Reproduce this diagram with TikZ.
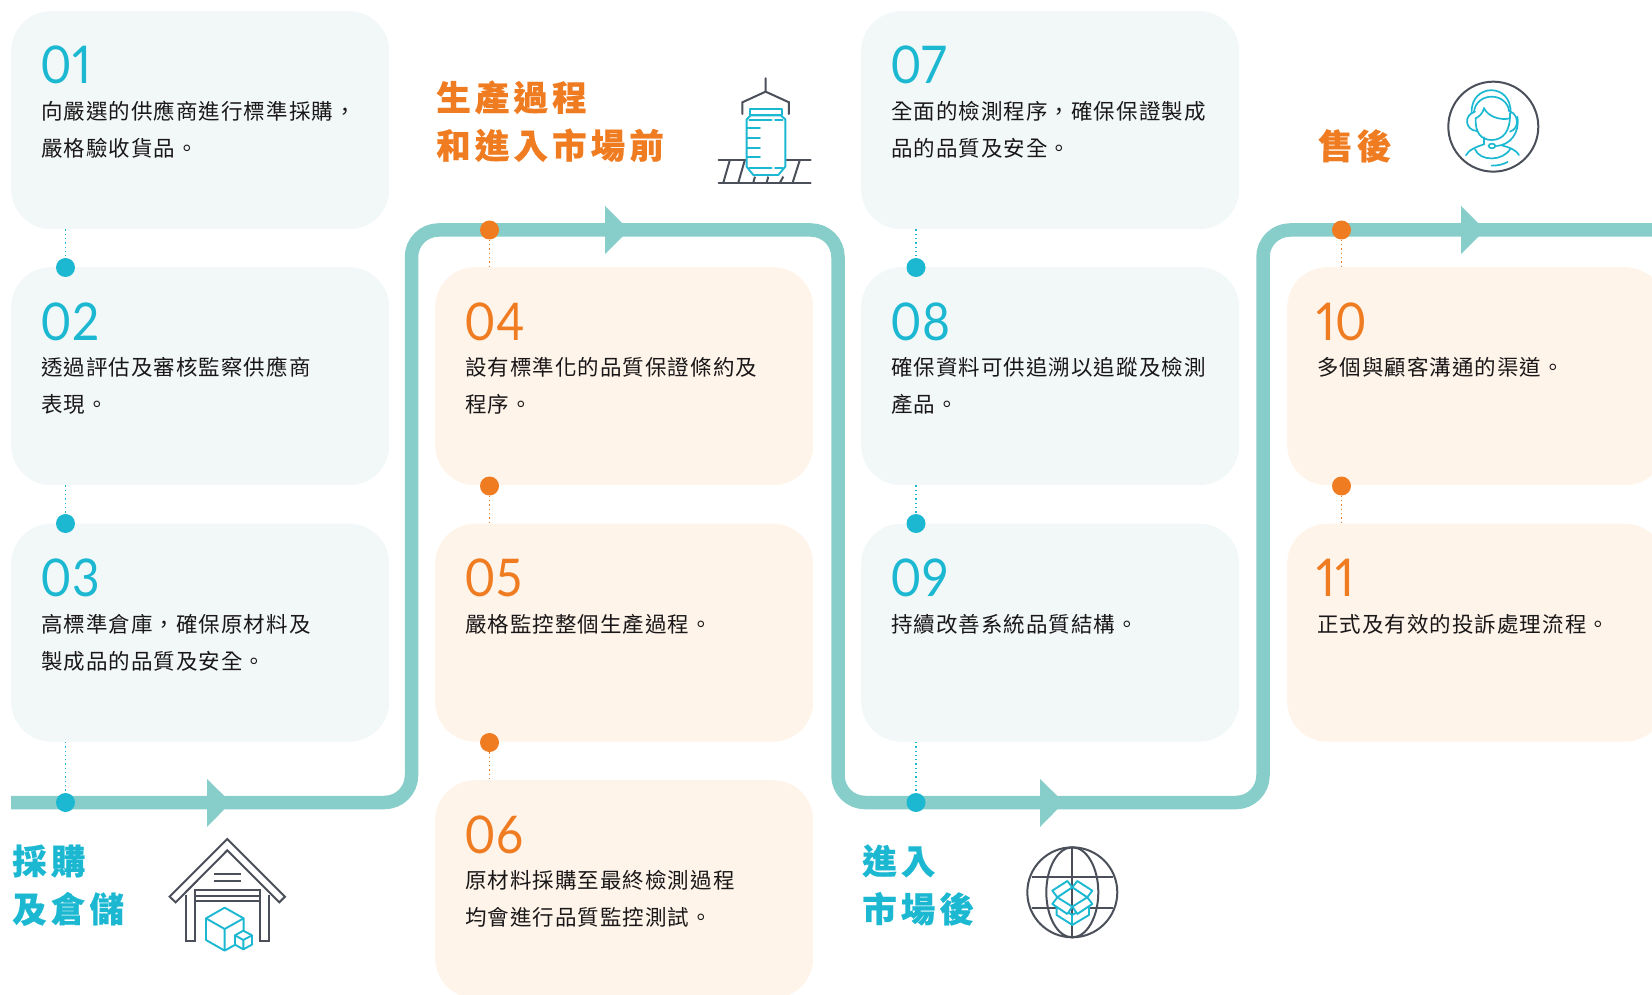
\documentclass[tikz,border=0pt]{standalone}
\usepackage{fontspec}
\setmainfont{Noto Sans}
\newfontfamily\cjk[LetterSpace=4.8]{Noto Sans CJK TC}
\newfontfamily\hdfont[LetterSpace=12,FakeBold=0.5]{Noto Sans CJK TC Black}
\newfontfamily\numfont[Numbers=Proportional,FakeStretch=0.92]{Lato}
\definecolor{cardB}{HTML}{F2F8F8}
\definecolor{cardO}{HTML}{FEF4EA}
\definecolor{track}{HTML}{87CDC9}
\definecolor{acB}{HTML}{1CB8D2}
\definecolor{acO}{HTML}{F07C22}
\definecolor{ink}{HTML}{4A4F5A}
\definecolor{txt}{HTML}{1A1718}
\tikzset{
  x=1pt,y=-1pt,
  cardbox/.style={anchor=north west,rounded corners=40pt,minimum width=378pt,minimum height=218pt,inner sep=0pt},
  numlabel/.style={anchor=base west,inner sep=0pt,font=\fontsize{52}{52}\selectfont\numfont},
  bodyline/.style={anchor=base west,inner sep=0pt,text=txt,font=\fontsize{21.5}{21.5}\selectfont\cjk},
  headline/.style={anchor=base west,inner sep=0pt,font=\fontsize{34.5}{34.5}\selectfont\hdfont},
  dotnode/.style={circle,inner sep=0pt,minimum size=19pt},
  dotline/.style={line width=1.3pt,dash pattern=on 1.3pt off 3pt},
  trackline/.style={draw=track,line width=13.5pt,rounded corners=27pt},
  arrowtri/.style={fill=track},
  icondark/.style={draw=ink,line width=2pt,line join=miter,fill=white},
  iconblue/.style={draw=acB,line width=1.9pt,line join=round,fill=white},
  iconbare/.style={draw=acB,line width=1.7pt,line cap=round},
}
\newcommand{\cardat}[7]{% name x top fill color line1 line2
  \node[cardbox,fill=#4] (c#1) at (#2,#3) {};
  \node[numlabel,text=#5] (n#1) at (#2+29.5,#3+73) {#1};
  \node[bodyline] (t#1a) at (#2+30,#3+108.5) {#6};
  \node[bodyline] (t#1b) at (#2+30,#3+145.8) {#7};
}
\begin{document}
\begin{tikzpicture}
\useasboundingbox (0,0) rectangle (1652,995);
\clip (0,0) rectangle (1652,995);
% cards
\cardat{01}{11}{11}{cardB}{acB}{向嚴選的供應商進行標準採購，}{嚴格驗收貨品。}
\cardat{02}{11}{267}{cardB}{acB}{透過評估及審核監察供應商}{表現。}
\cardat{03}{11}{523.5}{cardB}{acB}{高標準倉庫，確保原材料及}{製成品的品質及安全。}
\cardat{04}{435}{267}{cardO}{acO}{設有標準化的品質保證條約及}{程序。}
\cardat{05}{435}{523.5}{cardO}{acO}{嚴格監控整個生產過程。}{}
\cardat{06}{435}{780}{cardO}{acO}{原材料採購至最終檢測過程}{均會進行品質監控測試。}
\cardat{07}{861}{11}{cardB}{acB}{全面的檢測程序，確保保證製成}{品的品質及安全。}
\cardat{08}{861}{267}{cardB}{acB}{確保資料可供追溯以追蹤及檢測}{產品。}
\cardat{09}{861}{523.5}{cardB}{acB}{持續改善系統品質結構。}{}
\cardat{10}{1287}{267}{cardO}{acO}{多個與顧客溝通的渠道。}{}
\cardat{11}{1287}{523.5}{cardO}{acO}{正式及有效的投訴處理流程。}{}
% track
\coordinate (tkA) at (11,802.5);
\coordinate (tkB) at (411.5,802.5);
\coordinate (tkC) at (411.5,230);
\coordinate (tkD) at (838,230);
\coordinate (tkE) at (838,802.5);
\coordinate (tkF) at (1263,802.5);
\coordinate (tkG) at (1263,230);
\coordinate (tkH) at (1652,230);
\draw[trackline] (tkA) -- (tkB) -- (tkC) -- (tkD) -- (tkE) -- (tkF) -- (tkG) -- (tkH);
\fill[arrowtri] (207,779) -- (231,802.5) -- (207,827) -- cycle;
\fill[arrowtri] (605,206) -- (629,230) -- (605,254) -- cycle;
\fill[arrowtri] (1040,779) -- (1064,802.5) -- (1040,827) -- cycle;
\fill[arrowtri] (1461,206) -- (1485,230) -- (1461,254) -- cycle;
% dots
\node[dotnode,fill=acB] (b1) at (65.5,267.5) {};
\node[dotnode,fill=acB] (b2) at (65.5,523.5) {};
\node[dotnode,fill=acB] (b3) at (65.5,802.5) {};
\node[dotnode,fill=acO] (o1) at (489.5,230) {};
\node[dotnode,fill=acO] (o2) at (489.5,486) {};
\node[dotnode,fill=acO] (o3) at (489.5,742.5) {};
\node[dotnode,fill=acB] (b4) at (916,267.5) {};
\node[dotnode,fill=acB] (b5) at (916,523.5) {};
\node[dotnode,fill=acB] (b6) at (916,802.5) {};
\node[dotnode,fill=acO] (o4) at (1341.5,230) {};
\node[dotnode,fill=acO] (o5) at (1341.5,486) {};
% dotted links
\draw[dotline,draw=acB] (c01.south -| b1) -- (b1.north);
\draw[dotline,draw=acB] (c02.south -| b2) -- (b2.north);
\draw[dotline,draw=acB] (c03.south -| b3) -- (b3.north);
\draw[dotline,draw=acB] (c07.south -| b4) -- (b4.north);
\draw[dotline,draw=acB] (c08.south -| b5) -- (b5.north);
\draw[dotline,draw=acB] (c09.south -| b6) -- (b6.north);
\draw[dotline,draw=acO] (o1.south) -- (c04.north -| o1);
\draw[dotline,draw=acO] (o2.south) -- (c05.north -| o2);
\draw[dotline,draw=acO] (o3.south) -- (c06.north -| o3);
\draw[dotline,draw=acO] (o4.south) -- (c10.north -| o4);
\draw[dotline,draw=acO] (o5.south) -- (c11.north -| o5);
% headings
\node[headline,text=acB] (h1a) at (12,874) {採購};
\node[headline,text=acB] (h1b) at (12,922) {及倉儲};
\node[headline,text=acO] (h2a) at (436,110.5) {生產過程};
\node[headline,text=acO] (h2b) at (436,158.5) {和進入市場前};
\node[headline,text=acB] (h3a) at (862,874) {進入};
\node[headline,text=acB] (h3b) at (862,922) {市場後};
\node[headline,text=acO] (h4) at (1318,159) {售後};
% warehouse icon
\begin{scope}[shift={(0,780)},x=0.3333pt,y=-0.3333pt]
\draw[icondark] (682,177) -- (855,350) -- (838,367) -- (682,211) -- (527,367) -- (509,350) -- cycle;
\draw[icondark,fill=none] (558,345) -- (558,483) -- (586,483) -- (586,330) -- (780,330) -- (780,483) -- (806,483) -- (806,345);
\draw[icondark] (586,347) -- (780,347) (586,363) -- (780,363);
\draw[icondark] (642,283) -- (722,283) (642,302) -- (722,302);
\draw[iconblue] (674,383) -- (731,415) -- (731,480) -- (674,512) -- (618,480) -- (618,415) -- cycle;
\draw[iconblue,fill=none] (618,415) -- (674,447) -- (731,415) (674,447) -- (674,512);
\draw[iconblue] (730,452) -- (756,466) -- (756,494) -- (730,508) -- (705,494) -- (705,466) -- cycle;
\draw[iconblue,fill=none] (705,466) -- (730,480) -- (756,466) (730,480) -- (730,508);
\end{scope}
% bottle icon
\begin{scope}[shift={(400,50)},x=0.3333pt,y=-0.3333pt]
\draw[icondark,fill=none,line cap=round] (1097,85) -- (1097,125) (1027,192) -- (1027,157) -- (1097,125) -- (1167,157) -- (1167,192);
\draw[icondark,fill=none,line cap=round] (956,329) -- (1232,329) (956,398) -- (1232,398);
\draw[icondark,fill=none] (990,329) -- (970,398) (1035,329) -- (1015,398) (1200,329) -- (1178,398) (1065,380) -- (1060,398) (1105,380) -- (1100,398) (1150,380) -- (1140,398);
\draw[iconblue] (1052,196) -- (1142,196) -- (1156,208) -- (1156,350) -- (1135,375) -- (1060,375) -- (1040,350) -- (1040,208) -- cycle;
\draw[iconblue] (1050,176) rectangle (1145,196);
\draw[iconbare] (1040,235) -- (1080,235) (1040,264) -- (1080,264) (1040,293) -- (1080,293) (1040,322) -- (1080,322);
\draw[iconbare] (1048,210) -- (1115,210) (1125,210) -- (1148,210) (1048,355) -- (1115,355) (1125,355) -- (1148,355);
\end{scope}
% agent icon
\begin{scope}[shift={(1280,50)},x=0.3333pt,y=-0.3333pt]
\draw[icondark,fill=none] (640,230) ellipse[x radius=135,y radius=135];
\draw[iconbare] (575,190) .. controls (570,100) and (695,95) .. (692,190);
\draw[iconbare] (582,185) .. controls (590,125) and (680,125) .. (688,185);
\draw[iconbare] (587,205) .. controls (585,250) and (605,270) .. (635,270) .. controls (668,270) and (692,245) .. (690,190);
\draw[iconbare] (587,205) .. controls (598,200) and (608,190) .. (612,175) .. controls (625,200) and (660,212) .. (690,205);
\draw[iconbare] (585,185) .. controls (550,195) and (555,240) .. (590,243);
\draw[iconbare] (692,185) .. controls (715,195) and (720,235) .. (690,245);
\draw[iconbare] (712,200) .. controls (720,250) and (690,285) .. (650,288);
\draw[iconbare] (636,288) ellipse[x radius=10,y radius=7];
\draw[iconbare] (558,316) .. controls (565,300) and (590,290) .. (612,283) -- (612,262);
\draw[iconbare] (585,298) .. controls (600,335) and (670,335) .. (692,295);
\draw[iconbare] (668,287) .. controls (690,292) and (710,302) .. (717,315);
\draw[iconbare] (635,347) .. controls (655,347) and (670,343) .. (683,336);
\end{scope}
% globe icon
\begin{scope}[shift={(850,770)},x=0.3333pt,y=-0.3333pt]
\draw[icondark,fill=none] (667,367) ellipse[x radius=135,y radius=135];
\draw[icondark,fill=none] (667,367) ellipse[x radius=78,y radius=135];
\draw[icondark,fill=none] (667,232) -- (667,502) (545,321) -- (789,321) (545,413) -- (789,413);
\draw[iconblue] (620,405) -- (667,435) -- (717,405) -- (717,435) -- (667,465) -- (620,435) -- cycle;
\draw[iconblue] (667,435) -- (667,465);
\draw[iconblue] (607,362) -- (652,333) -- (667,352) -- (622,382) -- cycle;
\draw[iconblue] (682,333) -- (727,362) -- (712,382) -- (667,352) -- cycle;
\draw[iconblue] (622,382) -- (607,402) -- (652,432) -- (667,410) -- cycle;
\draw[iconblue] (712,382) -- (727,402) -- (682,432) -- (667,410) -- cycle;
\end{scope}
\end{tikzpicture}
\end{document}
